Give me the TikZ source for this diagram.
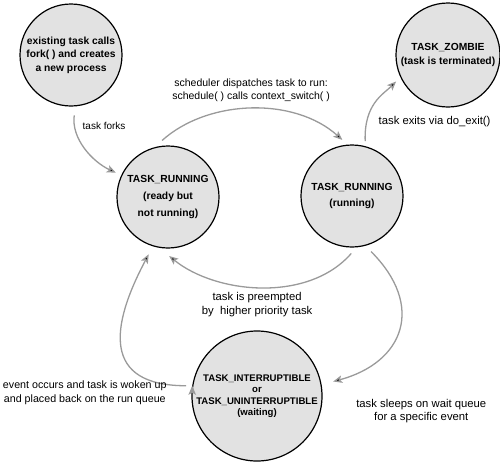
\documentclass[tikz,border=0pt]{standalone}
\usepackage{fontspec}
\setmainfont{Liberation Sans}
\usepackage{tikz}
\usetikzlibrary{arrows.meta,positioning}
\definecolor{stategray}{HTML}{E2E2E2}
\definecolor{arcgray}{HTML}{9A9A9A}

\begin{document}
\begin{tikzpicture}[x=1pt, y=1pt,
  state/.style={circle, draw=black, line width=1.2pt, fill=stategray, minimum size=102pt,
    inner sep=0pt, align=center, font=\fontsize{10.3}{13.5}\selectfont\bfseries},
  trans/.style={draw=arcgray, line width=1.3pt, -{Stealth[length=9pt, width=7.5pt, inset=2pt]}},
  lbl/.style={text=black, inner sep=0pt, align=center, font=\fontsize{11.3}{13.5}\selectfont}]
  \useasboundingbox (0,0) rectangle (500,-461);

   \node[state] (fork) at (71,-55) {existing task calls\\fork( ) and creates\\a new process};
   \node[state] (ready) at (168,-197) {TASK\_RUNNING\\[3.5pt](ready but\\[3.5pt]not running)};
   \node[state] (running) at (352,-196) {TASK\_RUNNING\\[3pt](running)};
   \node[state, minimum size=104pt] (zombie) at (448,-55) {TASK\_ZOMBIE\\(task is terminated)};
   \node[state, minimum size=130pt, font=\fontsize{9.6}{11.5}\selectfont\bfseries] (waiting) at (257,-396)
     {TASK\_INTERRUPTIBLE\\or\\TASK\_UNINTERRUPTIBLE\\(waiting)};

  \path[trans]
    (fork.275) edge [out=262, in=155, shorten <=9pt, shorten >=6pt]
      node [lbl, pos=0.22, right=6pt, font=\fontsize{10}{12}\selectfont] {task forks} (ready.155)
    (ready.105) edge [out=42, in=138, looseness=0.95, shorten <=10pt, shorten >=7pt]
      node [lbl, midway, above=8pt, font=\fontsize{10.5}{13}\selectfont] {scheduler dispatches task to run:\\schedule( ) calls context\_switch( )} (running.95)
    (running.75) edge [out=92, in=225, out looseness=1.4, in looseness=0.8, shorten <=5pt, shorten >=6pt]
      node [lbl, pos=0.3, right=9pt, yshift=-6pt] {task exits via do\_exit()} (zombie.205)
    (running.275) edge [out=229, in=321, looseness=0.95, shorten <=8pt, shorten >=13pt]
      node [lbl, midway, below=6pt, xshift=-4pt] {task is preempted\\by\ \ higher priority task} (ready.260)
    (running.285) edge [out=315, in=15, looseness=1.5, shorten <=8pt, shorten >=12pt]
      node [lbl, pos=1, below right=14pt and 34pt] {task sleeps on wait queue\\for a specific event} (waiting.10)
    (waiting.171) edge [out=180, in=242, looseness=1.6, shorten <=6pt, shorten >=9pt]
      node [lbl, pos=0, left=25pt, yshift=-7pt, font=\fontsize{10.7}{13.5}\selectfont] {event occurs and task is woken up\\and placed back on the run queue} (ready.253);
\end{tikzpicture}
\end{document}
